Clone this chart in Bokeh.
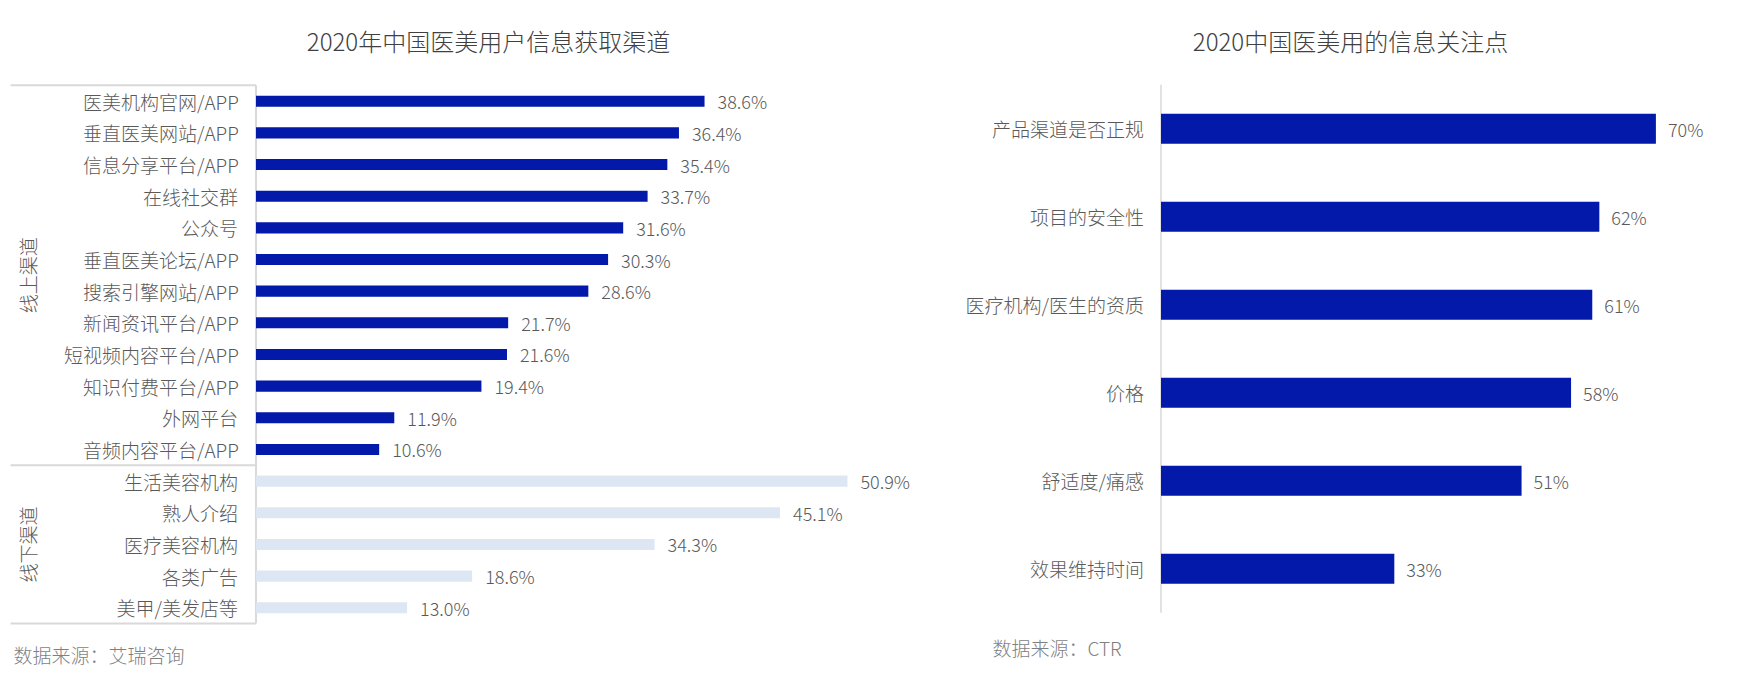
import math
from bokeh.plotting import figure
from bokeh.models import ColumnDataSource, Range1d, Label
from bokeh.layouts import row
from bokeh.embed import file_html
from bokeh.resources import INLINE
from bokeh.core.properties import value

# ---------------- data ----------------
left_title = "2020年中国医美用户信息获取渠道"
online_channels = ["医美机构官网/APP", "垂直医美网站/APP", "信息分享平台/APP", "在线社交群",
                   "公众号", "垂直医美论坛/APP", "搜索引擎网站/APP", "新闻资讯平台/APP",
                   "短视频内容平台/APP", "知识付费平台/APP", "外网平台", "音频内容平台/APP"]
online_values = [38.6, 36.4, 35.4, 33.7, 31.6, 30.3, 28.6, 21.7, 21.6, 19.4, 11.9, 10.6]
offline_channels = ["生活美容机构", "熟人介绍", "医疗美容机构", "各类广告", "美甲/美发店等"]
offline_values = [50.9, 45.1, 34.3, 18.6, 13.0]
group_names = ["线上渠道", "线下渠道"]
left_source = "数据来源：艾瑞咨询"

right_title = "2020中国医美用的信息关注点"
concerns = ["产品渠道是否正规", "项目的安全性", "医疗机构/医生的资质", "价格", "舒适度/痛感", "效果维持时间"]
concern_values = [70, 62, 61, 58, 51, 33]
right_source = "数据来源：CTR"

# ---------------- style ----------------
W1, W2, H = 935, 805, 670
FONT = "'Noto Sans CJK SC Light', 'Noto Sans CJK SC', sans-serif"
DARK = "#0219AA"
LIGHT = "#DCE7F3"
LINE = "#D9D9D9"
LABEL_C = "#595959"
TITLE_C = "#404040"
SRC_C = "#7F7F7F"


def base_fig(width, xr, yr):
    p = figure(width=width, height=H, x_range=xr, y_range=yr,
               output_backend="svg", toolbar_location=None,
               x_axis_location=None, y_axis_location=None,
               min_border=0, min_border_left=0, min_border_right=0,
               min_border_top=0, min_border_bottom=0)
    p.grid.visible = False
    p.outline_line_color = None
    p.background_fill_color = "white"
    p.border_fill_color = "white"
    return p


# ---------------- left chart ----------------
zero1, scale1 = 255.5, 11.62   # px position of 0 and px per percent
y0_1, step1 = 100.7, 31.66     # px of first category centre, px per category
xr1 = Range1d(-zero1 / scale1, (W1 - zero1) / scale1)
yr1 = Range1d((H - y0_1) / step1, -y0_1 / step1)
p1 = base_fig(W1, xr1, yr1)

names = online_channels + offline_channels
vals = online_values + offline_values
n_on, n_all = len(online_channels), len(names)
colors = [DARK] * n_on + [LIGHT] * len(offline_channels)
src1 = ColumnDataSource(dict(y=list(range(n_all)), v=vals, name=names, c=colors,
                             lab=[f"{v:.1f}%" for v in vals]))

# group box lines
xs = xr1.start + 10 / scale1
p1.segment(x0=[xs, xs, xs, 0], x1=[0, 0, 0, 0],
           y0=[-0.5, n_on - 0.5, n_all - 0.5, -0.5],
           y1=[-0.5, n_on - 0.5, n_all - 0.5, n_all - 0.5],
           line_color=LINE, line_width=2)

p1.hbar(y="y", left=0, right="v", height=0.35, fill_color="c", line_color=None, source=src1)
p1.text(x=0, y="y", text="name", x_offset=-18, text_align="right", text_baseline="middle",
        text_font=value(FONT), text_font_size="19px", text_color=LABEL_C, source=src1)
p1.text(x="v", y="y", text="lab", x_offset=13, text_align="left", text_baseline="middle",
        text_font=value(FONT), text_font_size="18px", text_color=LABEL_C, source=src1)

for gname, gc in zip(group_names, [(n_on - 1) / 2, (n_on + n_all - 1) / 2]):
    p1.add_layout(Label(x=27, y=gc, x_units="screen", y_units="data", text=gname,
                        angle=math.pi / 2, text_align="center", text_baseline="middle",
                        text_font=FONT, text_font_size="19px", text_color=LABEL_C))

p1.add_layout(Label(x=488, y=H - 40, x_units="screen", y_units="screen", text=left_title,
                    text_align="center", text_baseline="middle",
                    text_font=FONT, text_font_size="24px", text_color=TITLE_C))
p1.add_layout(Label(x=13, y=H - 654, x_units="screen", y_units="screen", text=left_source,
                    text_align="left", text_baseline="middle",
                    text_font=FONT, text_font_size="19px", text_color=SRC_C))

# ---------------- right chart ----------------
zero2, scale2 = 225.5, 7.07
y0_2, step2 = 128.3, 88.0
xr2 = Range1d(-zero2 / scale2, (W2 - zero2) / scale2)
yr2 = Range1d((H - y0_2) / step2, -y0_2 / step2)
p2 = base_fig(W2, xr2, yr2)

n2 = len(concerns)
src2 = ColumnDataSource(dict(y=list(range(n2)), v=concern_values, name=concerns,
                             lab=[f"{v}%" for v in concern_values]))
p2.segment(x0=[0], x1=[0], y0=[-0.5], y1=[n2 - 0.5], line_color=LINE, line_width=1.5)
p2.hbar(y="y", left=0, right="v", height=0.34, fill_color=DARK, line_color=None, source=src2)
p2.text(x=0, y="y", text="name", x_offset=-17, text_align="right", text_baseline="middle",
        text_font=value(FONT), text_font_size="19px", text_color=LABEL_C, source=src2)
p2.text(x="v", y="y", text="lab", x_offset=12, text_align="left", text_baseline="middle",
        text_font=value(FONT), text_font_size="18px", text_color=LABEL_C, source=src2)

p2.add_layout(Label(x=415, y=H - 40, x_units="screen", y_units="screen", text=right_title,
                    text_align="center", text_baseline="middle",
                    text_font=FONT, text_font_size="24px", text_color=TITLE_C))
p2.add_layout(Label(x=57, y=H - 647, x_units="screen", y_units="screen", text=right_source,
                    text_align="left", text_baseline="middle",
                    text_font=FONT, text_font_size="19px", text_color=SRC_C))

layout = row(p1, p2)
open("out.html", "w").write(file_html(layout, INLINE))
